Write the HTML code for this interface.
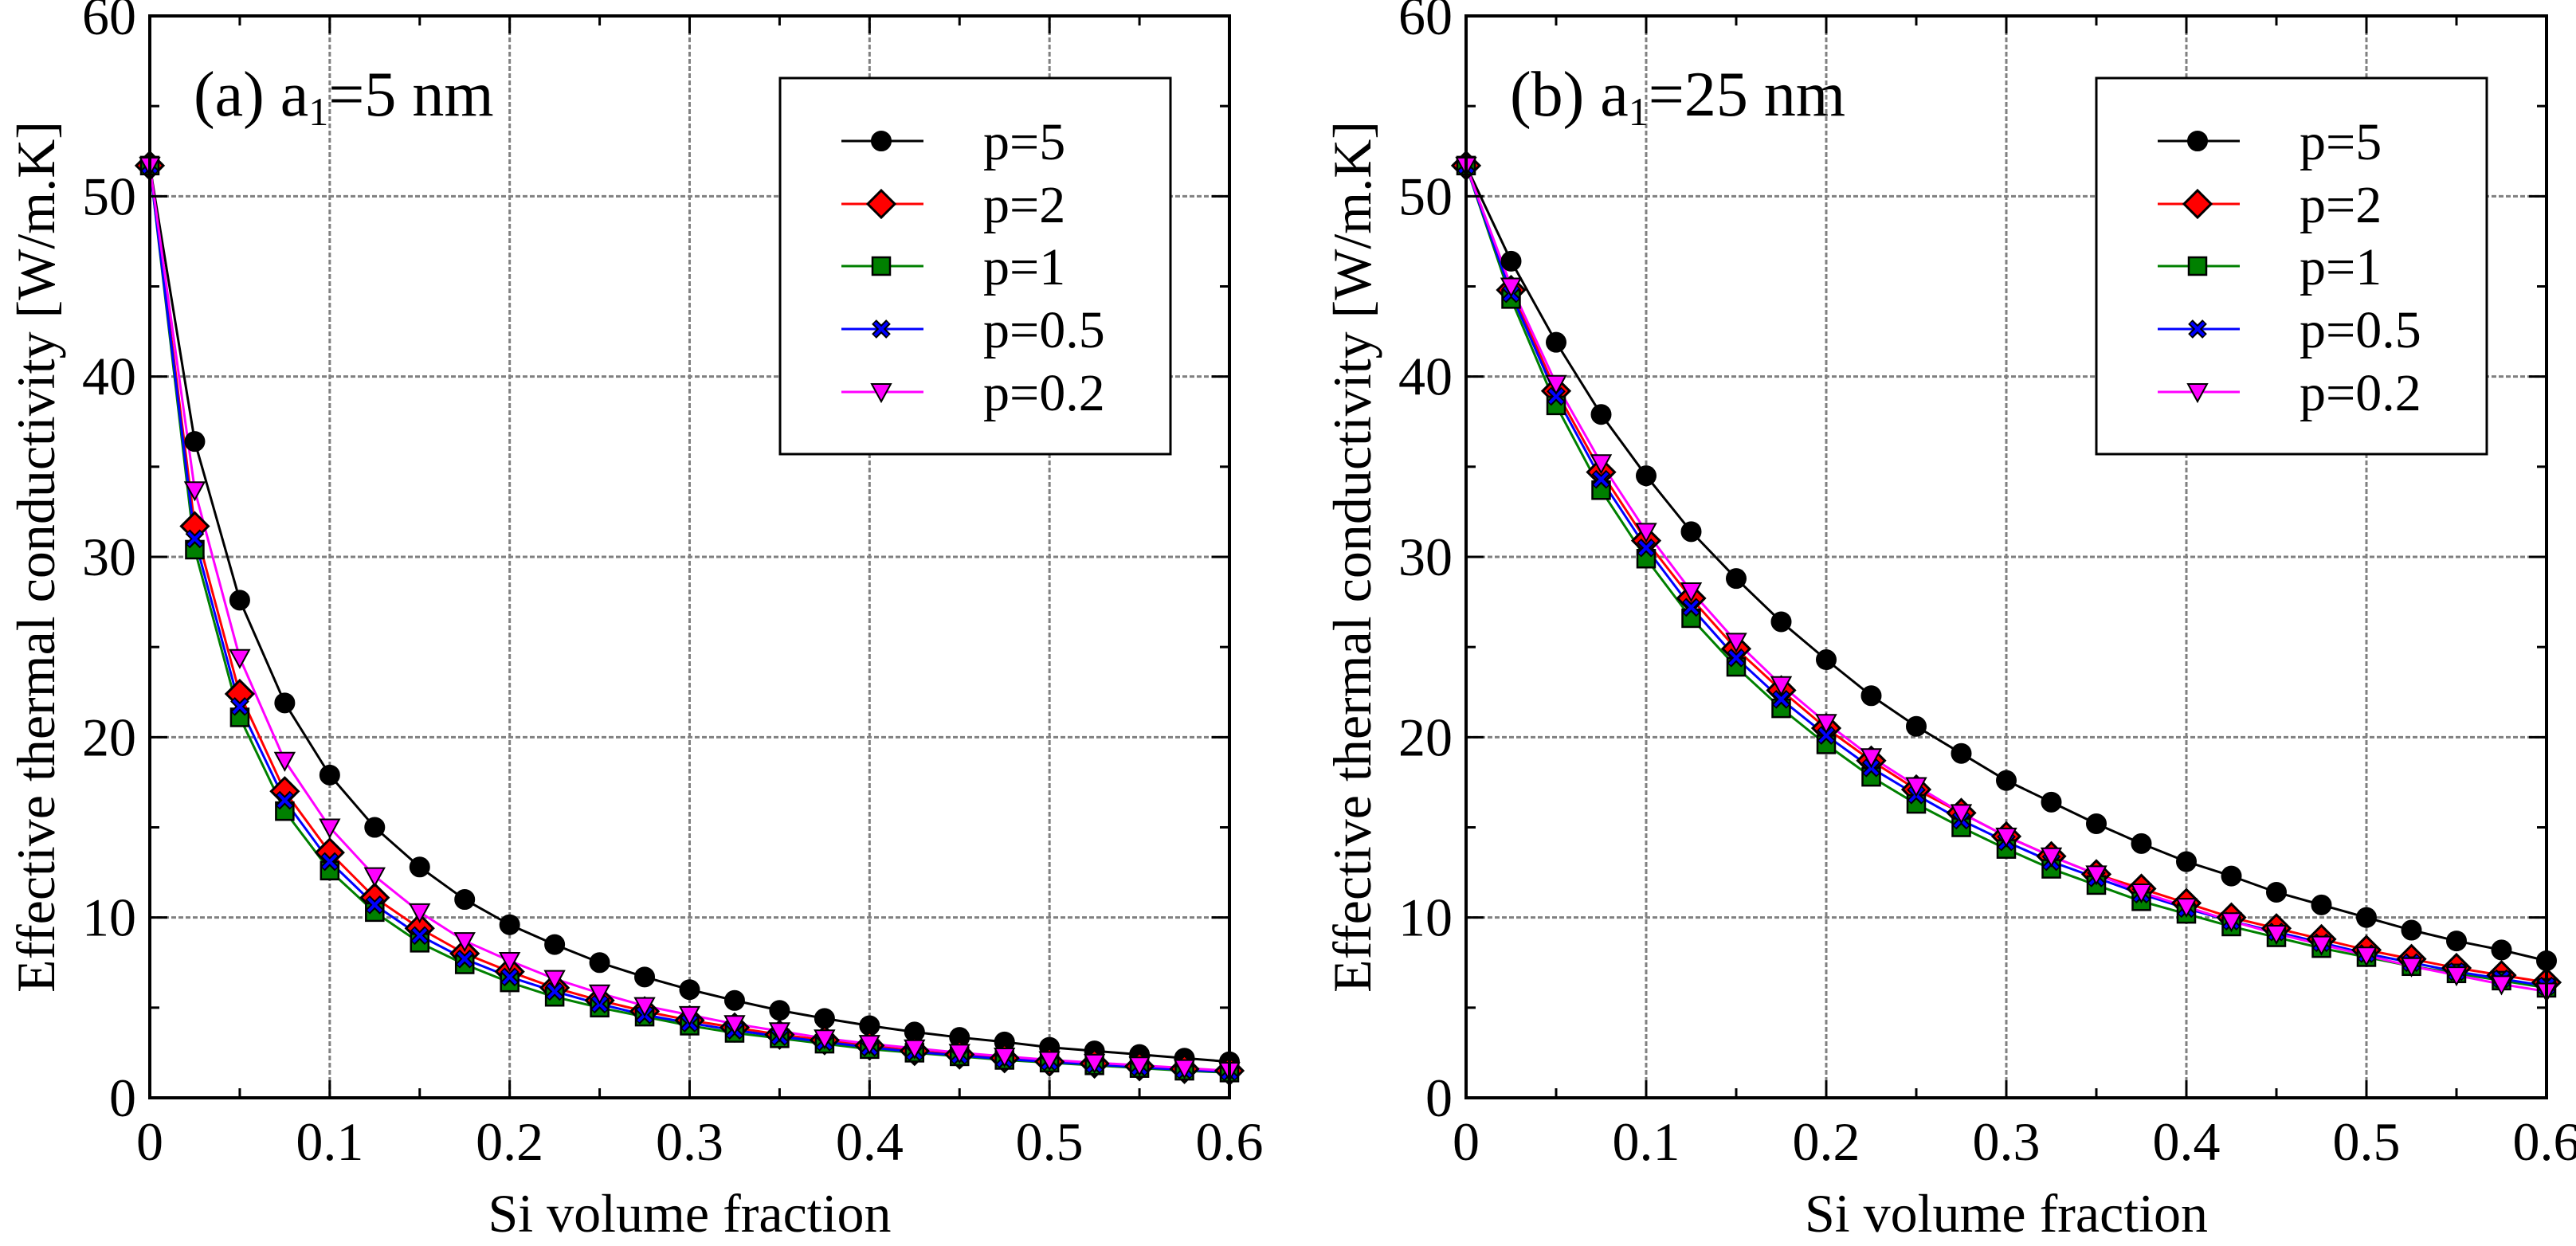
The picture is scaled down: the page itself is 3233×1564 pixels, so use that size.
<!DOCTYPE html>
<html><head><meta charset="utf-8"><style>
html,body{margin:0;padding:0;background:#fff}
svg{display:block;font-family:"Liberation Serif",serif}
svg text{font-family:"Liberation Serif",serif}
</style></head><body>
<svg id="chart" width="3233" height="1564" viewBox="0 0 3233 1564" xmlns="http://www.w3.org/2000/svg" font-family="Liberation Serif, serif"></svg>
<script>
const xValues=[0,0.025,0.05,0.075,0.1,0.125,0.15,0.175,0.2,0.225,0.25,0.275,0.3,0.325,0.35,0.375,0.4,0.425,0.45,0.475,0.5,0.525,0.55,0.575,0.6];
const xTicks=[0,0.1,0.2,0.3,0.4,0.5,0.6];
const yTicks=[0,10,20,30,40,50,60];
const seriesNames=["p=5","p=2","p=1","p=0.5","p=0.2"];
const aP5=[51.7,36.4,27.6,21.9,17.9,15.0,12.8,11.0,9.6,8.5,7.5,6.7,6.0,5.4,4.85,4.4,4.0,3.65,3.35,3.1,2.8,2.6,2.4,2.2,2.0];
const aP2=[51.7,31.7,22.4,17.0,13.6,11.1,9.4,8.0,7.0,6.1,5.4,4.8,4.3,3.9,3.5,3.2,2.9,2.6,2.4,2.2,2.0,1.9,1.75,1.6,1.5];
const aP1=[51.7,30.4,21.1,15.9,12.6,10.3,8.6,7.4,6.4,5.6,5.0,4.5,4.0,3.6,3.3,3.0,2.7,2.5,2.3,2.1,1.95,1.8,1.65,1.5,1.4];
const aP05=[51.7,31.0,21.7,16.5,13.1,10.7,9.0,7.7,6.7,5.9,5.2,4.6,4.15,3.75,3.4,3.1,2.8,2.55,2.35,2.15,2.0,1.85,1.7,1.55,1.45];
const aP02=[51.7,33.7,24.4,18.7,15.0,12.3,10.3,8.7,7.6,6.6,5.8,5.1,4.6,4.1,3.7,3.3,3.0,2.75,2.5,2.3,2.1,1.95,1.8,1.65,1.5];
const bP5=[51.7,46.4,41.9,37.9,34.5,31.4,28.8,26.4,24.3,22.3,20.6,19.1,17.6,16.4,15.2,14.1,13.1,12.3,11.4,10.7,10.0,9.3,8.7,8.2,7.6];
const bP2=[51.7,44.8,39.2,34.7,30.9,27.7,24.9,22.6,20.5,18.7,17.1,15.8,14.5,13.4,12.4,11.6,10.8,10.0,9.4,8.8,8.2,7.7,7.2,6.8,6.4];
const bP1=[51.7,44.3,38.4,33.7,29.9,26.6,23.9,21.6,19.6,17.8,16.3,15.0,13.8,12.7,11.8,10.9,10.2,9.5,8.9,8.3,7.8,7.3,6.9,6.5,6.1];
const bP05=[51.7,44.6,38.9,34.3,30.5,27.2,24.4,22.1,20.1,18.3,16.8,15.4,14.2,13.1,12.2,11.3,10.5,9.8,9.2,8.6,8.0,7.5,7.0,6.6,6.2];
const bP02=[51.7,45.0,39.6,35.2,31.4,28.1,25.3,22.9,20.8,18.9,17.3,15.8,14.5,13.4,12.4,11.4,10.6,9.8,9.1,8.5,7.9,7.3,6.8,6.3,5.9];

const NS="http://www.w3.org/2000/svg";
const svg=document.getElementById('chart');
const FF='"Liberation Serif", serif';
function mk(tag,attrs,parent){const e=document.createElementNS(NS,tag);for(const k in attrs)e.setAttribute(k,attrs[k]);if(tag==='text'){e.setAttribute('font-family',FF);e.style.fontFamily=FF;}(parent||svg).appendChild(e);return e;}
const colors=["#000000","#ff0000","#008000","#0000ff","#ff00ff"];
const fills=["#000000","#ff0000","#008000","#0000ff","#ff00ff"];
const shapes=["circle","diamond","square","x","tri"];

function marker(g,shape,cx,cy,fill){
  let e;
  if(shape==="circle"){e=mk('circle',{cx:cx,cy:cy,r:12,fill:fill,stroke:'#000','stroke-width':2},g);}
  else if(shape==="diamond"){e=mk('polygon',{points:`${cx},${cy-17} ${cx+17},${cy} ${cx},${cy+17} ${cx-17},${cy}`,fill:fill,stroke:'#000','stroke-width':3},g);}
  else if(shape==="square"){e=mk('rect',{x:cx-11,y:cy-11,width:22,height:22,fill:fill,stroke:'#000','stroke-width':2.5},g);}
  else if(shape==="x"){e=mk('path',{d:`M${cx-9},${cy-9}L${cx+9},${cy+9}M${cx+9},${cy-9}L${cx-9},${cy+9}`,stroke:'#000','stroke-width':8,fill:'none'},g);
    mk('path',{d:`M${cx-8},${cy-8}L${cx+8},${cy+8}M${cx+8},${cy-8}L${cx-8},${cy+8}`,stroke:fill,'stroke-width':4,fill:'none'},g);}
  else {e=mk('polygon',{points:`${cx-12},${cy-10} ${cx+12},${cy-10} ${cx},${cy+12}`,fill:fill,stroke:'#000','stroke-width':2},g);}
  return e;
}

function panel(id,left,right,label,data,yTitleX,legendX){
  const top=20,bottom=1378;
  const sx=v=>left+(v/0.6)*(right-left);
  const sy=v=>bottom-(v/60)*(bottom-top);
  const g=mk('g',{});
  
  
  xTicks.forEach(t=>{if(t>0&&t<0.6){const l=mk('line',{x1:sx(t),x2:sx(t),y1:top,y2:bottom,stroke:'#808080','stroke-width':3,'stroke-dasharray':'6,3'},g);
    }});
  yTicks.forEach(t=>{if(t>0&&t<60){const l=mk('line',{x1:left,x2:right,y1:sy(t),y2:sy(t),stroke:'#808080','stroke-width':3,'stroke-dasharray':'6,3'},g);
    }});
  data.forEach((arr,si)=>{
    const sg=mk('g',{},g);
    
    
    const pts=arr.map((v,i)=>sx(xValues[i])+','+sy(v)).join(' ');
    const pl=mk('polyline',{points:pts,fill:'none',stroke:colors[si],'stroke-width':3},sg);
    
  });
  data.forEach((arr,si)=>{
    const mg=mk('g',{},g);
    
    
    arr.forEach((v,i)=>{const m=marker(mg,shapes[si],sx(xValues[i]),sy(v),fills[si]);
      });
  });
  const fr=mk('rect',{x:left,y:top,width:right-left,height:bottom-top,fill:'none',stroke:'#000','stroke-width':4},g);
  
  for(let v=0;v<=60;v+=5){const len=(v%10===0)?22:12;
    mk('line',{x1:left,x2:left+len,y1:sy(v),y2:sy(v),stroke:'#000','stroke-width':3},g);
    mk('line',{x1:right,x2:right-len,y1:sy(v),y2:sy(v),stroke:'#000','stroke-width':3},g);}
  xTicks.forEach(t=>{mk('line',{x1:sx(t),x2:sx(t),y1:bottom,y2:bottom-22,stroke:'#000','stroke-width':3},g);
    mk('line',{x1:sx(t),x2:sx(t),y1:top,y2:top+22,stroke:'#000','stroke-width':3},g);});
  for(let t=0.05;t<0.6;t+=0.1){mk('line',{x1:sx(t),x2:sx(t),y1:bottom,y2:bottom-12,stroke:'#000','stroke-width':3},g);
    mk('line',{x1:sx(t),x2:sx(t),y1:top,y2:top+12,stroke:'#000','stroke-width':3},g);}
  yTicks.forEach(t=>{const tx=mk('text',{x:left-17,y:sy(t)+23,'text-anchor':'end','font-size':68},g);tx.textContent=String(t);
    });
  xTicks.forEach(t=>{const tx=mk('text',{x:sx(t),y:bottom+78,'text-anchor':'middle','font-size':68},g);tx.textContent=String(t);
    });
  const xt=mk('text',{x:(left+right)/2,y:1546,'text-anchor':'middle','font-size':68},g);xt.textContent='Si volume fraction';
  
  const yt=mk('text',{x:0,y:0,'text-anchor':'middle','font-size':68,transform:`translate(${yTitleX},${(top+bottom)/2}) rotate(-90)`},g);
  yt.textContent='Effective thermal conductivity [W/m.K]';
  
  const pl=mk('text',{x:left+55,y:145,'font-size':80},g);
  pl.innerHTML=label;
  
  const lg=mk('g',{},g);
  
  mk('rect',{x:legendX,y:98,width:490,height:472,fill:'#fff',stroke:'#000','stroke-width':3},lg);
  const ly=[177,256,334,413,492];
  seriesNames.forEach((n,si)=>{
    const eg=mk('g',{},lg);
    
    mk('line',{x1:legendX+77,x2:legendX+180,y1:ly[si],y2:ly[si],stroke:colors[si],'stroke-width':3},eg);
    marker(eg,shapes[si],legendX+127,ly[si],fills[si]);
    const t=mk('text',{x:legendX+255,y:ly[si]+23,'font-size':66},eg);t.textContent=n;
  });
}
panel('panel-a',188,1543,'(a) a<tspan font-size="50" dy="12">1</tspan><tspan dy="-12">=5 nm</tspan>',[aP5,aP2,aP1,aP05,aP02],68,979);
panel('panel-b',1840,3196,'(b) a<tspan font-size="50" dy="12">1</tspan><tspan dy="-12">=25 nm</tspan>',[bP5,bP2,bP1,bP05,bP02],1720,2631);
</script>
</body></html>
